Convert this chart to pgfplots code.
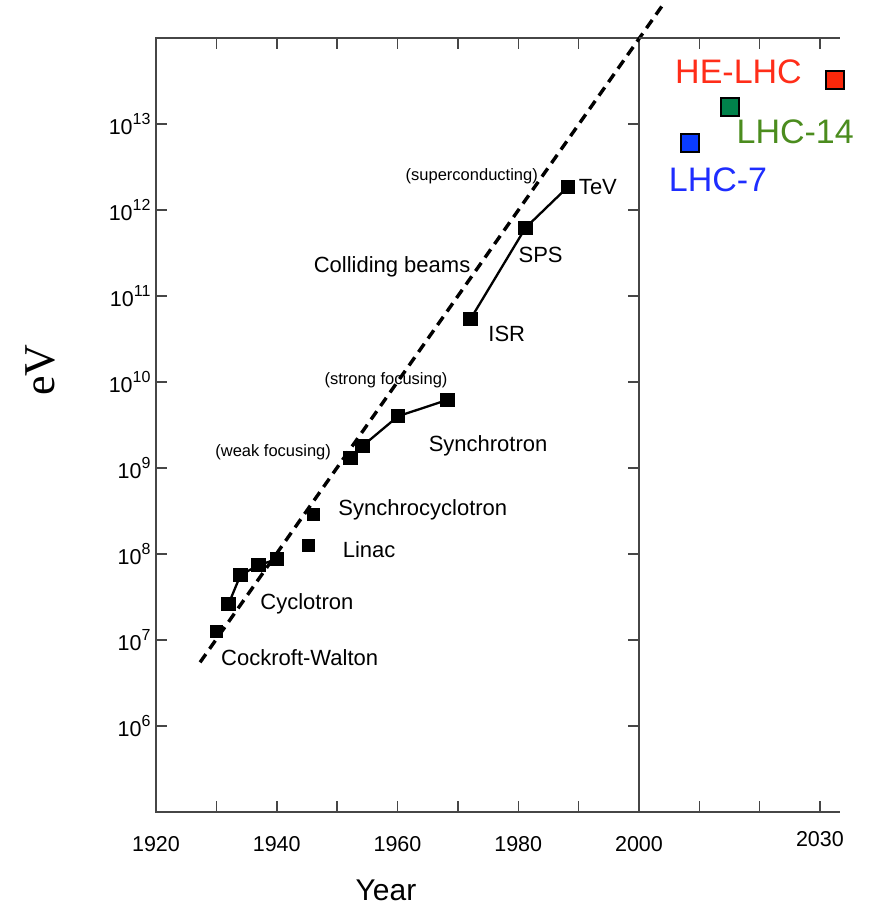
\documentclass[border=0pt]{standalone}
\usepackage{pgfplots}
\pgfplotsset{compat=1.18}
\usepackage{fontspec}
\setmainfont{Liberation Sans}
\newfontfamily\seriffont{Liberation Serif}
\definecolor{axgray}{RGB}{70,70,70}
\definecolor{hered}{RGB}{255,45,25}
\definecolor{hesq}{RGB}{250,40,10}
\definecolor{lhcgreen}{RGB}{75,140,30}
\definecolor{lhcsq}{RGB}{0,130,75}
\definecolor{lhcblue}{RGB}{30,45,255}
\definecolor{lhcbsq}{RGB}{10,60,255}
\newcommand{\tp}[1]{10\raisebox{0.45em}{\fontsize{16bp}{16bp}\selectfont #1}}
\newcommand{\lab}{\fontsize{22bp}{24bp}\selectfont}
\newcommand{\sml}{\fontsize{16.5bp}{18bp}\selectfont}
\newcommand{\bigfnt}{\fontsize{34bp}{36bp}\selectfont}
\begin{document}
\begin{tikzpicture}[x=1bp,y=1bp]
\useasboundingbox (0,0) rectangle (882,911);
\begin{axis}[
  at={(156bp,99bp)}, anchor=south west,
  scale only axis, width=483bp, height=774bp,
  xmin=1920, xmax=2000, ymode=log, ymin=1e5, ymax=1e14,
  clip=false,
  axis line style={axgray, line width=1.8bp},
  tick style={axgray, line width=1.5bp},
  major tick length=11bp,
  tick align=inside,
  xtick={1920,1930,1940,1950,1960,1970,1980,1990,2000},
  xticklabels={1920,,1940,,1960,,1980,,2000},
  ytick={1e6,1e7,1e8,1e9,1e10,1e11,1e12,1e13},
  yticklabels={\tp{6},\tp{7},\tp{8},\tp{9},\tp{10},\tp{11},\tp{12},\tp{13}},
  yminorticks=false,
  ticklabel style={font=\fontsize{21.5bp}{23bp}\selectfont},
  xticklabel style={yshift=-21bp},
  yticklabel style={xshift=-2bp},
]
% dashed trend line
\addplot[black, line width=3.4bp, dash pattern=on 10bp off 6.5bp] coordinates {(1927.3,5.5e6) (2003.9,2.4e14)};
% Cockroft-Walton
\addplot[black, only marks, mark=square*, mark size=6bp] coordinates {(1930,1.26e7)};
% Cyclotron
\addplot[black, line width=2.3bp, mark=square*, mark size=6bp] coordinates {(1932,2.6e7) (1934,5.7e7) (1937,7.4e7) (1940,8.7e7)};
% Linac
\addplot[black, only marks, mark=square*, mark size=6bp] coordinates {(1945.2,1.27e8)};
% Synchrocyclotron
\addplot[black, only marks, mark=square*, mark size=6bp] coordinates {(1946,2.9e8)};
% Synchrotron
\addplot[black, line width=2.3bp, mark=square*, mark size=6bp] coordinates {(1952.2,1.3e9) (1954.2,1.8e9) (1960.1,4.0e9) (1968.3,6.2e9)};
% Colliders
\addplot[black, line width=2.3bp, mark=square*, mark size=6bp] coordinates {(1972.1,5.4e10) (1981.2,6.2e11) (1988.2,1.85e12)};
% labels
\node[font=\sml] at (axis cs:1972.3,2.5e12) {(superconducting)};
\node[font=\lab] at (axis cs:1993.2,1.86e12) {TeV};
\node[font=\lab] at (axis cs:1983.7,3.0e11) {SPS};
\node[font=\lab] at (axis cs:1959.1,2.2e11) {Colliding beams};
\node[font=\lab] at (axis cs:1978.1,3.6e10) {ISR};
\node[font=\sml] at (axis cs:1958.1,1.05e10) {(strong focusing)};
\node[font=\sml] at (axis cs:1939.4,1.54e9) {(weak focusing)};
\node[font=\lab] at (axis cs:1975.0,1.8e9) {Synchrotron};
\node[font=\lab] at (axis cs:1964.2,3.24e8) {Synchrocyclotron};
\node[font=\lab] at (axis cs:1955.3,1.12e8) {Linac};
\node[font=\lab] at (axis cs:1945.0,2.6e7) {Cyclotron};
\node[font=\lab] at (axis cs:1943.8,6.3e6) {Cockroft-Walton};
\end{axis}
\begin{axis}[
  at={(639bp,99bp)}, anchor=south west,
  scale only axis, width=201bp, height=774bp,
  xmin=2000, xmax=2033.33, ymode=log, ymin=1e5, ymax=1e14,
  clip=false,
  axis x line=box, axis y line=none,
  axis line style={axgray, line width=1.8bp},
  tick style={axgray, line width=1.5bp},
  major tick length=11bp,
  tick align=inside,
  xtick={2010,2020,2030},
  xticklabels={,,2030},
  ytick=\empty,
  ticklabel style={font=\fontsize{21.5bp}{23bp}\selectfont},
  xticklabel style={yshift=-16bp},
]
\addplot[only marks, mark=square*, mark size=9bp, mark options={fill=lhcbsq, draw=black, line width=2.4bp}] coordinates {(2008.5,6.0e12)};
\addplot[only marks, mark=square*, mark size=9bp, mark options={fill=lhcsq, draw=black, line width=2.4bp}] coordinates {(2015.1,1.58e13)};
\addplot[only marks, mark=square*, mark size=9bp, mark options={fill=hesq, draw=black, line width=2.4bp}] coordinates {(2032.5,3.25e13)};
\node[font=\bigfnt, text=hered] at (axis cs:2016.5,4.0e13) {HE-LHC};
\node[font=\bigfnt, text=lhcgreen] at (axis cs:2025.9,8.1e12) {LHC-14};
\node[font=\bigfnt, text=lhcblue] at (axis cs:2013.1,2.24e12) {LHC-7};
\end{axis}
\node[rotate=90, font=\seriffont\fontsize{44bp}{44bp}\selectfont] at (40,541) {eV};
\node[font=\fontsize{30bp}{32bp}\selectfont] at (386,21) {Year};
\end{tikzpicture}
\end{document}
